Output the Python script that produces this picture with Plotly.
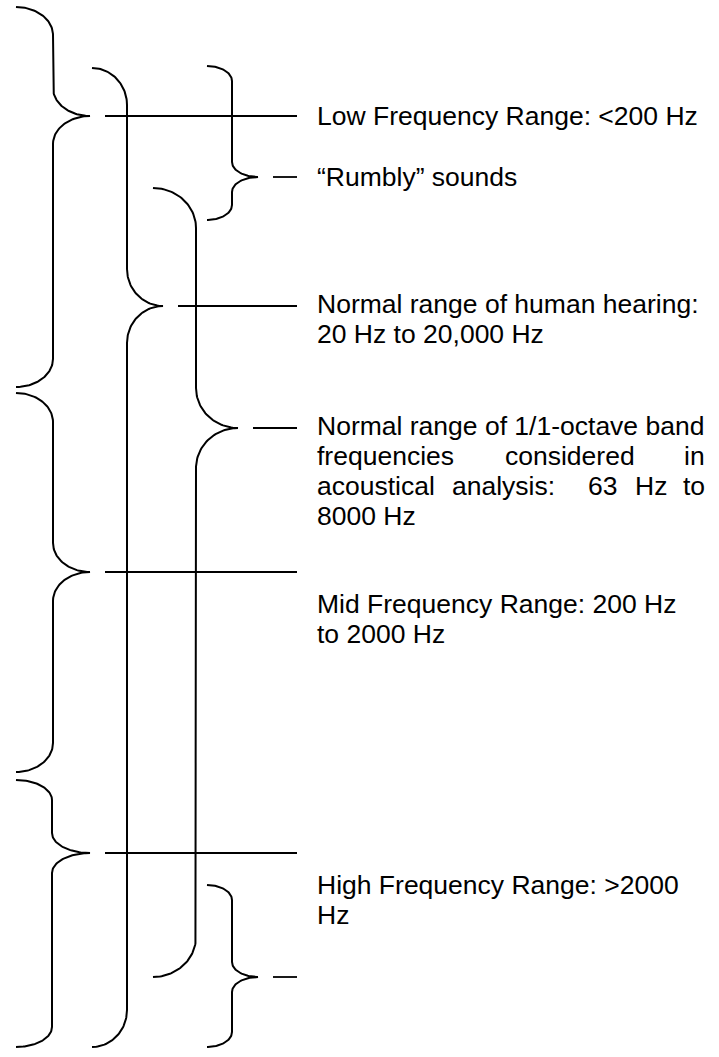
import numpy as np
import plotly.graph_objects as go

# ---------------- data ----------------
# Each brace groups a span of the (vertical) frequency scale: top end, tip, bottom end
brace_names = ["Low", "Mid", "High", "Hearing", "Rumbly", "Octave", "Bottom"]
brace_top = [7, 393, 780, 68, 66, 188, 885]
brace_tip = [116, 572, 853, 306, 177, 428, 977]
brace_bottom = [387, 772, 1047, 1047, 220, 977, 1047]

# text attached to each brace (one entry per printed line)
label_lines = {
    "Low": ["Low Frequency Range: <200 Hz"],
    "Rumbly": ["\u201cRumbly\u201d sounds"],
    "Hearing": ["Normal range of human hearing:", "20 Hz to 20,000 Hz"],
    "Octave": ["Normal range of 1/1-octave band",
               "frequencies considered in",
               "acoustical analysis:  63 Hz to",
               "8000 Hz"],
    "Mid": ["Mid Frequency Range: 200 Hz", "to 2000 Hz"],
    "High": ["High Frequency Range: >2000", "Hz"],
}

# ---------------- layout / geometry (not data) ----------------
W, H = 719, 1057
brace_x0 = [16, 16, 16, 92, 207, 153, 207]      # end points of brace
brace_xs = [53, 53, 52, 127, 232, 196, 232]     # vertical spine
brace_xt = [90, 90, 90, 163, 258, 238, 258]     # tip
brace_r = [28, 29, 20, 37, 15, 40, 15]          # curve radius (vertical)
lead_gap = 15
lead_end = 297
pad = 2
text_x = 317 - pad
line_step = 30
first_line_y = {"Low": 116, "Rumbly": 177, "Hearing": 304, "Octave": 426,
                "Mid": 604, "High": 885}
# justified lines: word start positions (layout)
justified = {
    ("Octave", 1): [("frequencies", 317, "left"), ("considered", 505, "left"), ("in", 705, "right")],
    ("Octave", 2): [("acoustical", 317, "left"), ("analysis:", 452, "left"), ("63", 588, "left"),
                    ("Hz", 635, "left"), ("to", 705, "right")],
}

FONT = dict(family="Arial, Liberation Sans, sans-serif", size=26.5, color="black")


def brace_path(x0, xs, xt, r, top, tip, bottom, n=40):
    t = np.linspace(0, np.pi / 2, n)
    a = xs - x0
    b = xt - xs
    p1x = x0 + a * np.sin(t); p1y = top + r - r * np.cos(t)
    p2x = xt - b * np.cos(t); p2y = tip - r + r * np.sin(t)
    p3x = xt - b * np.sin(t); p3y = tip + r - r * np.cos(t)
    p4x = x0 + a * np.cos(t); p4y = bottom - r + r * np.sin(t)
    return (np.concatenate([p1x, p2x, p3x, p4x]),
            np.concatenate([p1y, p2y, p3y, p4y]))


fig = go.Figure()
for i, name in enumerate(brace_names):
    px, py = brace_path(brace_x0[i], brace_xs[i], brace_xt[i], brace_r[i],
                        brace_top[i], brace_tip[i], brace_bottom[i])
    fig.add_trace(go.Scatter(x=px, y=py, mode="lines",
                             line=dict(color="black", width=2),
                             hoverinfo="skip", showlegend=False))
    fig.add_trace(go.Scatter(x=[brace_xt[i] + lead_gap, lead_end],
                             y=[brace_tip[i], brace_tip[i]], mode="lines",
                             line=dict(color="black", width=1.8),
                             hoverinfo="skip", showlegend=False))

annotations = []
for name, lines in label_lines.items():
    y0 = first_line_y[name]
    for k, txt in enumerate(lines):
        y = y0 + k * line_step
        if (name, k) in justified:
            for word, wx, anchor in justified[(name, k)]:
                ax = wx - pad if anchor == "left" else wx + pad
                annotations.append(dict(x=ax, y=y, xref="x", yref="y", text=word,
                                        showarrow=False, xanchor=anchor, yanchor="middle",
                                        font=FONT))
        else:
            annotations.append(dict(x=text_x, y=y, xref="x", yref="y", text=txt,
                                    showarrow=False, xanchor="left", yanchor="middle",
                                    font=FONT))

fig.update_layout(
    width=W, height=H, autosize=False,
    margin=dict(l=0, r=0, t=0, b=0, pad=0),
    paper_bgcolor="white", plot_bgcolor="white",
    annotations=annotations,
    showlegend=False,
)
fig.update_xaxes(range=[0, W], visible=False, fixedrange=True, domain=[0, 1])
fig.update_yaxes(range=[H, 0], visible=False, fixedrange=True, domain=[0, 1])

fig.write_html("out.html", config={"displayModeBar": False, "staticPlot": True},
               post_script="document.body.style.margin='0';document.body.style.overflow='hidden';")
